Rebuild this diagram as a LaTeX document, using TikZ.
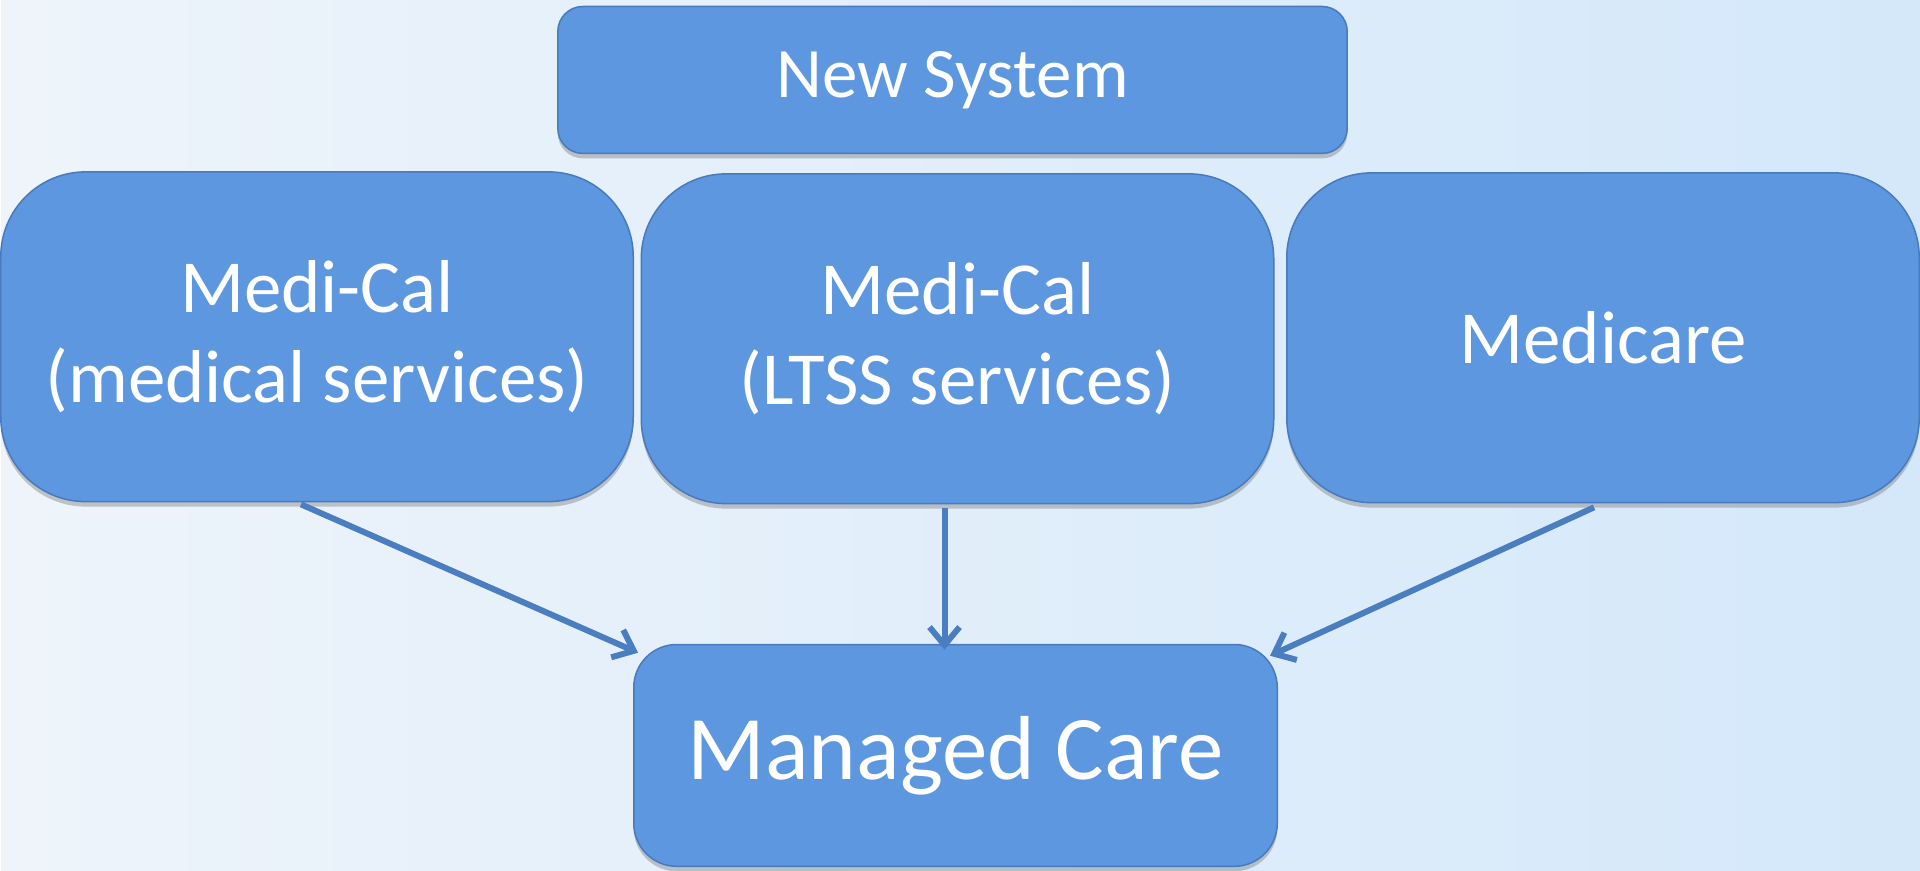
\documentclass[tikz,border=0pt]{standalone}
\usepackage{fontspec}
\setmainfont{Carlito}
\usetikzlibrary{arrows.meta,shadows}

\definecolor{boxblue}{RGB}{92,151,224}
\definecolor{boxline}{RGB}{72,122,188}
\definecolor{arrblue}{RGB}{74,126,192}
\definecolor{bgleft}{RGB}{238,244,250}
\definecolor{bgright}{RGB}{212,232,250}

\tikzset{
  planbox/.style={draw=boxline, line width=1.5pt, fill=boxblue, text=white,
    align=center, inner sep=0pt,
    drop shadow={shadow xshift=0pt, shadow yshift=-5pt, opacity=.35, fill=black!60}},
  bigbox/.style={planbox, minimum width=633pt, minimum height=330pt,
    rounded corners=85pt, font=\fontsize{75}{90}\selectfont},
  flow/.style={-{Straight Barb[length=18pt,width=30pt]}, draw=arrblue, line width=6pt}
}

\begin{document}
\begin{tikzpicture}[x=1pt,y=-1pt]
\fill [left color=bgleft, right color=bgright] (0,0) rectangle (1920,871);

\node [planbox, minimum width=790pt, minimum height=147pt, rounded corners=25pt,
  font=\fontsize{71}{85}\selectfont] (newsys) at (952,80) {New System};

\node [bigbox] (medical) at (316,337) {Medi-Cal\\(medical services)};
\node [bigbox] (ltss) at (957,339) {Medi-Cal\\(LTSS services)};
\node [bigbox] (medicare) at (1603,338) {Medicare};

\node [planbox, minimum width=644pt, minimum height=222pt, rounded corners=43pt,
  font=\fontsize{91}{109}\selectfont] (managed) at (955,756) {Managed Care};

\draw [flow] ([xshift=-16pt,yshift=-2pt]medical.south) -- ([xshift=5pt,yshift=-9pt]managed.north west);
\draw [flow] ([xshift=-13pt,yshift=-4pt]ltss.south) -- ([xshift=-13pt,yshift=-6pt]ltss.south |- managed.north);
\draw [flow] ([xshift=-9pt,yshift=-4pt]medicare.south) -- ([xshift=-8pt,yshift=-12pt]managed.north east);
\end{tikzpicture}
\end{document}
